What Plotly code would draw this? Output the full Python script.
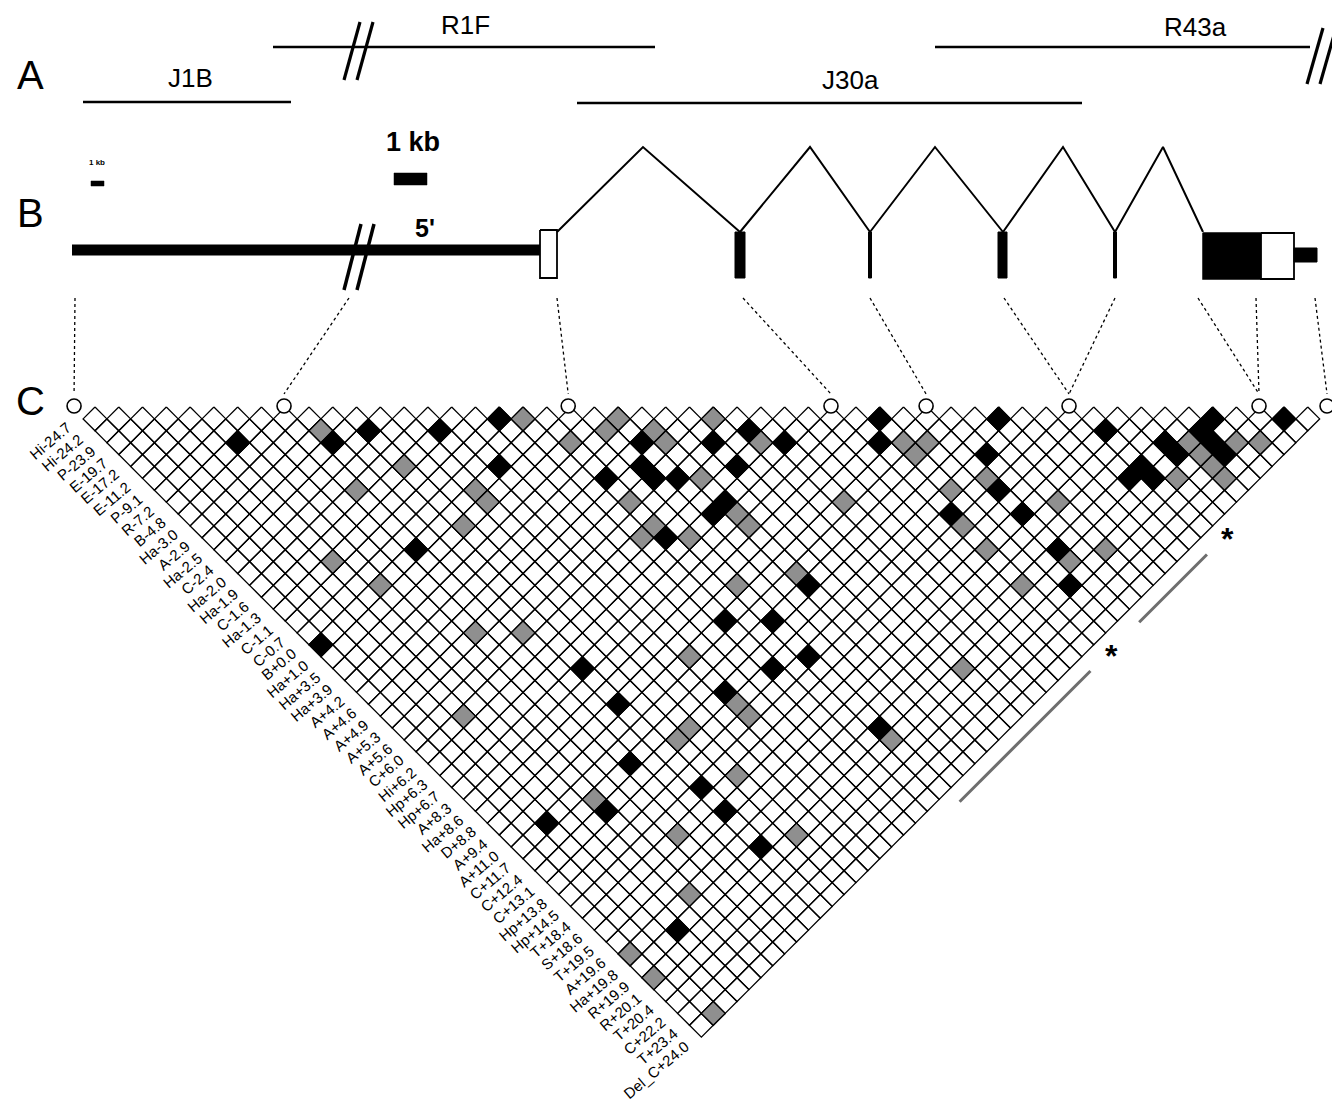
import plotly.graph_objects as go

# page body has an 8px default margin; the plot area is sized/offset to compensate
PAGE_W, PAGE_H, BODY = 1340, 1110, 8
W, H = PAGE_W - 2 * BODY, PAGE_H - 2 * BODY

# ---------------- data ----------------
markers = ["Hi-24.7", "Hi-24.2", "P-23.9", "E-19.7", "E-17.2", "E-11.2", "P-9.1", "R-7.2",
           "B-4.8", "Ha-3.0", "A-2.9", "Ha-2.5", "C-2.4", "Ha-2.0", "Ha-1.9", "C-1.6",
           "Ha-1.3", "C-1.1", "C-0.7", "B+0.0", "Ha+1.0", "Ha+3.5", "Ha+3.9", "A+4.2",
           "A+4.6", "A+4.9", "A+5.3", "A+5.6", "C+6.0", "Hi+6.2", "Hp+6.3", "Hp+6.7",
           "A+8.3", "Ha+8.6", "D+8.8", "A+9.4", "A+11.0", "C+11.7", "C+12.4", "C+13.1",
           "Hp+13.8", "Hp+14.5", "T+18.4", "S+18.6", "T+19.5", "A+19.6", "Ha+19.8",
           "R+19.9", "R+20.1", "T+20.4", "C+22.2", "T+23.4", "Del_C+24.0"]

# marker pairs (1-based) with strong LD (black) and moderate LD (grey)
black_pairs = [(6, 9), (10, 13), (12, 14), (15, 17), (9, 21), (1, 21), (18, 19), (23, 26),
               (22, 27), (22, 28), (23, 29), (20, 26), (16, 21), (26, 29), (28, 30), (29, 32),
               (34, 35), (33, 36), (26, 31), (24, 32), (23, 32), (20, 31), (24, 39), (19, 37),
               (21, 39), (39, 40), (37, 41), (36, 43), (33, 42), (36, 45), (36, 48), (35, 50),
               (43, 45), (45, 48), (45, 49), (43, 48), (42, 48), (43, 49), (48, 49), (47, 49),
               (47, 50), (47, 51), (51, 52), (11, 33), (11, 36), (19, 41), (16, 40), (9, 39),
               (11, 43), (6, 40), (11, 45), (3, 38), (11, 48), (21, 42), (21, 48), (4, 48)]
grey_pairs = [(10, 12), (12, 17), (9, 16), (14, 21), (12, 22), (5, 18), (6, 21), (19, 20),
              (20, 23), (23, 24), (22, 24), (24, 26), (24, 27), (27, 28), (28, 31), (34, 37),
              (24, 30), (20, 28), (20, 30), (19, 30), (21, 32), (24, 33), (24, 34), (29, 37),
              (14, 22), (21, 36), (24, 38), (10, 29), (8, 27), (35, 38), (34, 38), (36, 42),
              (34, 41), (33, 43), (38, 46), (33, 45), (36, 49), (38, 50), (33, 48), (46, 49),
              (46, 50), (46, 51), (46, 52), (48, 51), (49, 52), (44, 50), (4, 30), (16, 37),
              (16, 41), (16, 42), (13, 40), (12, 40), (13, 44), (6, 39), (8, 44), (13, 49),
              (27, 49), (21, 49), (6, 47), (1, 47), (1, 49), (2, 53)]

# haplotype blocks marked beside the triangle (marker index ranges)
block_ranges = [(19.8, 30.8), (34.9, 40.6)]

# gene landmarks projected onto the marker axis (marker index units)
landmark_pos = [0.62, 9.45, 21.4, 32.45, 36.45, 42.46, 50.45, 53.31]

# ---------------- schematic (layout units) ----------------
clones = ["J1B", "R1F", "J30a", "R43a"]
clone_start = [83, 273, 577, 935]
clone_end = [291, 655, 1082, 1310]
clone_y = [102, 47, 103, 47]
clone_label_x = [190, 465, 850, 1195]
clone_label_y = [78, 25, 80, 27]

intron_peaks = [643, 810, 935, 1063, 1163]
intron_from = [557, 740, 870, 1003, 1115]
intron_to = [740, 870, 1003, 1115, 1203]
exon_left = [735, 868.5, 998, 1113.5]
exon_right = [745, 871.5, 1007, 1116.5]

# dotted connectors: gene position -> landmark index
connector_gene_x = [75, 349, 557, 743, 870, 1004, 1115, 1198, 1256, 1315]
connector_landmark = [0, 1, 2, 3, 4, 5, 5, 6, 6, 7]

# ---------------- geometry ----------------
X0, D, Y0 = 83.1, 23.78, 407.0
FONT = "Liberation Sans, Arial, Helvetica, sans-serif"
NARROW = "Liberation Sans Narrow, Arial Narrow, " + FONT


def mx(p):
    return X0 + (p - 1) * D


def diamond_path(pairs):
    xs, ys = [], []
    h = D / 2
    for i, j in pairs:
        cx = X0 + ((i - 1) + (j - 1)) / 2 * D
        cy = Y0 + (j - i) / 2 * D
        xs += [cx, cx + h, cx, cx - h, cx, None]
        ys += [cy - h, cy, cy + h, cy, cy - h, None]
    return xs, ys


n = len(markers)
all_pairs = [(i, j) for i in range(1, n + 1) for j in range(i + 1, n + 1)]

fig = go.Figure()


def line(xs, ys, width=2.2, color="black", dash=None):
    fig.add_trace(go.Scatter(x=xs, y=ys, mode="lines", hoverinfo="skip", cliponaxis=False,
                             line=dict(color=color, width=width, dash=dash)))


def poly(xs, ys, fill, lw=1.6, lc="black"):
    fig.add_trace(go.Scatter(x=xs + [xs[0]], y=ys + [ys[0]], mode="lines", fill="toself",
                             fillcolor=fill, hoverinfo="skip",
                             line=dict(color=lc, width=lw)))


# LD grid
for pairs, col in [(all_pairs, "white"), (grey_pairs, "#8f8f8f"), (black_pairs, "black")]:
    xs, ys = diamond_path(pairs)
    fig.add_trace(go.Scatter(x=xs, y=ys, mode="lines", fill="toself", fillcolor=col,
                             line=dict(color="black", width=1.3), hoverinfo="skip"))

# marker labels along the left edge
for k, lab in enumerate(markers):
    ax = X0 + k * D / 2 - 6
    ay = Y0 + D / 2 + k * D / 2 - 3
    fig.add_annotation(x=ax, y=ay, text=lab, showarrow=False, textangle=-40,
                       xanchor="right", yanchor="top",
                       font=dict(family=FONT, size=15, color="black"))

# haplotype block bars and asterisks
for a, b in block_ranges:
    off = 0.96 * D
    xa = X0 + ((a - 1) + (n - 1)) / 2 * D + D / 2 + off
    ya = Y0 + (n - a) / 2 * D
    xb = X0 + ((b - 1) + (n - 1)) / 2 * D + D / 2 + off
    yb = Y0 + (n - b) / 2 * D
    line([xa, xb], [ya, yb], width=3, color="#6e6e6e")
    fig.add_annotation(x=xb + 21, y=yb - 15, text="<b>*</b>", showarrow=False,
                       font=dict(family=FONT, size=32, color="black"))

# landmark circles
cx = [mx(p) for p in landmark_pos]
fig.add_trace(go.Scatter(x=cx, y=[Y0 - 1] * len(cx), mode="markers", hoverinfo="skip",
                         cliponaxis=False,
                         marker=dict(size=14, color="white",
                                     line=dict(color="black", width=1.6))))

# dotted connectors
for gx, li in zip(connector_gene_x, connector_landmark):
    line([gx, cx[li]], [298, 394], width=1.3, dash="dot")

# row A: clone lines
for name, s, e, y, lx, ly in zip(clones, clone_start, clone_end, clone_y,
                                  clone_label_x, clone_label_y):
    line([s, e], [y, y], width=2.4)
    fig.add_annotation(x=lx, y=ly, text=name, showarrow=False,
                       font=dict(family=FONT, size=26, color="black"))

# break marks
for bx, by0, by1 in [(352, 80, 22), (1315, 84, 28)]:
    for dx in (0, 13):
        line([bx - 8 + dx, bx + 8 + dx], [by0, by1], width=3.2)

# row B: gene structure
line([72, 540], [250, 250], width=11)
for dx in (0, 13):
    line([344 + dx, 361 + dx], [290, 224], width=3.5)
poly([540, 557, 557, 540], [230, 230, 278, 278], "white", lw=1.8)
for f, p, t in zip(intron_from, intron_peaks, intron_to):
    line([f, p, t], [232, 147, 232], width=2)
for l, r in zip(exon_left, exon_right):
    poly([l, r, r, l], [232, 232, 278, 278], "black", lw=1)
poly([1203, 1261, 1261, 1203], [233, 233, 279, 279], "black", lw=1.5)
poly([1261, 1294, 1294, 1261], [233, 233, 279, 279], "white", lw=1.8)
poly([1294, 1317, 1317, 1294], [248, 248, 262, 262], "black", lw=1)

# scale bars
poly([91, 104, 104, 91], [181, 181, 186, 186], "black", lw=0.5)
fig.add_annotation(x=97, y=162, text="<b>1 kb</b>", showarrow=False,
                   font=dict(family=NARROW, size=8, color="black"))
poly([394, 427, 427, 394], [173, 173, 185, 185], "black", lw=0.5)
fig.add_annotation(x=413, y=142, text="<b>1 kb</b>", showarrow=False,
                   font=dict(family=NARROW, size=27, color="black"))
fig.add_annotation(x=425, y=228, text="<b>5'</b>", showarrow=False,
                   font=dict(family=NARROW, size=25, color="black"))

# panel letters
for letter, y in [("A", 75), ("B", 213), ("C", 401)]:
    fig.add_annotation(x=30, y=y, text=letter, showarrow=False,
                       font=dict(family=FONT, size=40, color="black"))

fig.update_layout(width=W, height=H, margin=dict(l=0, r=0, t=0, b=0),
                  paper_bgcolor="white", plot_bgcolor="white", showlegend=False,
                  xaxis=dict(range=[BODY, BODY + W], visible=False, fixedrange=True),
                  yaxis=dict(range=[BODY + H, BODY], visible=False, fixedrange=True))

fig.write_html("out.html")
